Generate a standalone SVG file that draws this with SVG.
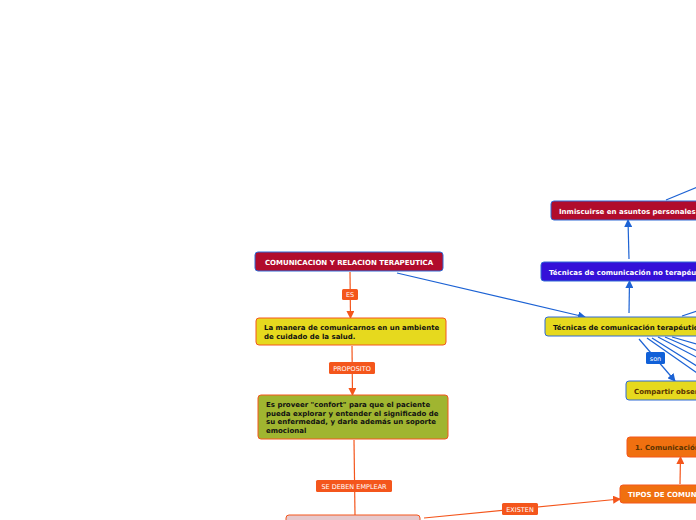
<svg xmlns="http://www.w3.org/2000/svg" width="696" height="520" viewBox="0 0 696 520">
<defs>
<marker id="ao" markerWidth="8" markerHeight="8" refX="7" refY="4" orient="auto" markerUnits="userSpaceOnUse"><path d="M0,0 L8,4 L0,8 Z" fill="#f4561c"/></marker>
<marker id="ab" markerWidth="8" markerHeight="8" refX="7" refY="4" orient="auto" markerUnits="userSpaceOnUse"><path d="M0,0 L8,4 L0,8 Z" fill="#1c62d4"/></marker>
</defs>
<style>
text{font-family:"DejaVu Sans","Verdana",sans-serif;}
.t{font-size:7px;font-weight:bold;}
.w{fill:#ffffff;}
.k{fill:#111111;}
.br{fill:#5a3300;}
.lab{font-size:6.5px;fill:#ffffff;}
.co{stroke:#f4561c;stroke-width:1.2;fill:none;}
.cb{stroke:#1c62d4;stroke-width:1.2;fill:none;}
</style>
<rect width="696" height="520" fill="#ffffff"/>
<g id="connectors">
<line class="co" x1="350" y1="272" x2="350.5" y2="318" marker-end="url(#ao)"/>
<line class="co" x1="352" y1="346" x2="352.5" y2="395" marker-end="url(#ao)"/>
<line class="co" x1="354" y1="440" x2="355" y2="515"/>
<line class="co" x1="424" y1="518" x2="620" y2="499" marker-end="url(#ao)"/>
<line class="co" x1="680" y1="484" x2="680.5" y2="457" marker-end="url(#ao)"/>
<line class="cb" x1="397" y1="273" x2="585" y2="317" marker-end="url(#ab)"/>
<line class="cb" x1="629" y1="313" x2="629.5" y2="281" marker-end="url(#ab)"/>
<line class="cb" x1="629" y1="259" x2="628" y2="220" marker-end="url(#ab)"/>
<line class="cb" x1="666" y1="200" x2="700" y2="186"/>
<line class="cb" x1="682" y1="316" x2="700" y2="310"/>
<line class="cb" x1="639" y1="339" x2="675" y2="381" marker-end="url(#ab)"/>
<line class="cb" x1="647" y1="338" x2="700" y2="375"/>
<line class="cb" x1="652" y1="338" x2="700" y2="368"/>
<line class="cb" x1="658" y1="337" x2="700" y2="359"/>
<line class="cb" x1="665" y1="337" x2="700" y2="352"/>
<line class="cb" x1="672" y1="337" x2="700" y2="345"/>
<g id="labels">
<rect x="342" y="289" width="16" height="11" rx="1.5" fill="#f4561c"/>
<text class="lab" x="350" y="297" text-anchor="middle">ES</text>
<rect x="329" y="362" width="46" height="12" rx="1.5" fill="#f4561c"/>
<text class="lab" x="352" y="370.5" text-anchor="middle">PROPOSITO</text>
<rect x="316" y="480" width="76" height="12" rx="1.5" fill="#f4561c"/>
<text class="lab" x="354" y="488.5" text-anchor="middle">SE DEBEN EMPLEAR</text>
<rect x="502" y="503" width="36" height="12" rx="1.5" fill="#f4561c"/>
<text class="lab" x="520" y="511.5" text-anchor="middle">EXISTEN</text>
<rect x="646" y="352" width="19" height="12" rx="1.5" fill="#1060d8"/>
<text class="lab" x="655.5" y="360.5" text-anchor="middle">son</text>
</g>
</g>
<g id="n-comunicacion">
<rect x="255" y="252" width="188" height="19" rx="3" fill="#b10c2c" stroke="#2e6ad6" stroke-width="1"/>
<text class="t w" x="349" y="264.5" text-anchor="middle" font-size="7.4">COMUNICACION Y RELACION TERAPEUTICA</text>
</g>
<g id="n-manera">
<rect x="256" y="318" width="190" height="27" rx="3" fill="#e6d91e" stroke="#f4561c" stroke-width="1"/>
<text class="t k" x="264" y="330">La manera de comunicarnos en un ambiente</text>
<text class="t k" x="264" y="339">de cuidado de la salud.</text>
</g>
<g id="n-proveer">
<rect x="258" y="395" width="190" height="44" rx="3" fill="#a0b530" stroke="#f4561c" stroke-width="1"/>
<text class="t k" x="266" y="407">Es proveer "confort" para que el paciente</text>
<text class="t k" x="266" y="415.5">pueda explorar y entender el significado de</text>
<text class="t k" x="266" y="424">su enfermedad, y darle además un soporte</text>
<text class="t k" x="266" y="432.5">emocional</text>
</g>
<g id="n-bottom">
<rect x="286" y="515" width="134" height="20" rx="3" fill="#e6c8cc" stroke="#f4561c" stroke-width="1"/>
</g>
<g id="n-tipos">
<rect x="620" y="485" width="90" height="18" rx="3" fill="#f07010" stroke="#f4561c" stroke-width="1"/>
<text class="t w" x="628" y="496.5">TIPOS DE COMUNICACION</text>
</g>
<g id="n-comunicacion1">
<rect x="627" y="437" width="90" height="20" rx="3" fill="#f07010" stroke="#f4561c" stroke-width="1"/>
<text class="t br" x="635" y="449.5">1. Comunicación verbal</text>
</g>
<g id="n-terapeuticas">
<rect x="545" y="317" width="160" height="19" rx="3" fill="#e6d91e" stroke="#2e6ad6" stroke-width="1"/>
<text class="t k" x="553" y="329.5">Técnicas de comunicación terapéuticas</text>
</g>
<g id="n-noterapeuticas">
<rect x="541" y="262" width="165" height="19" rx="3" fill="#3411d8" stroke="#2e6ad6" stroke-width="1"/>
<text class="t w" x="549" y="274.5">Técnicas de comunicación no terapéuticas</text>
</g>
<g id="n-inmiscuirse">
<rect x="551" y="201" width="160" height="19" rx="3" fill="#b10c2c" stroke="#2e6ad6" stroke-width="1"/>
<text class="t w" x="559" y="213.5">Inmiscuirse en asuntos personales</text>
</g>
<g id="n-compartir">
<rect x="626" y="381" width="90" height="19" rx="3" fill="#e6d91e" stroke="#2e6ad6" stroke-width="1"/>
<text class="t br" x="634" y="393.5">Compartir observaciones</text>
</g>
</svg>
